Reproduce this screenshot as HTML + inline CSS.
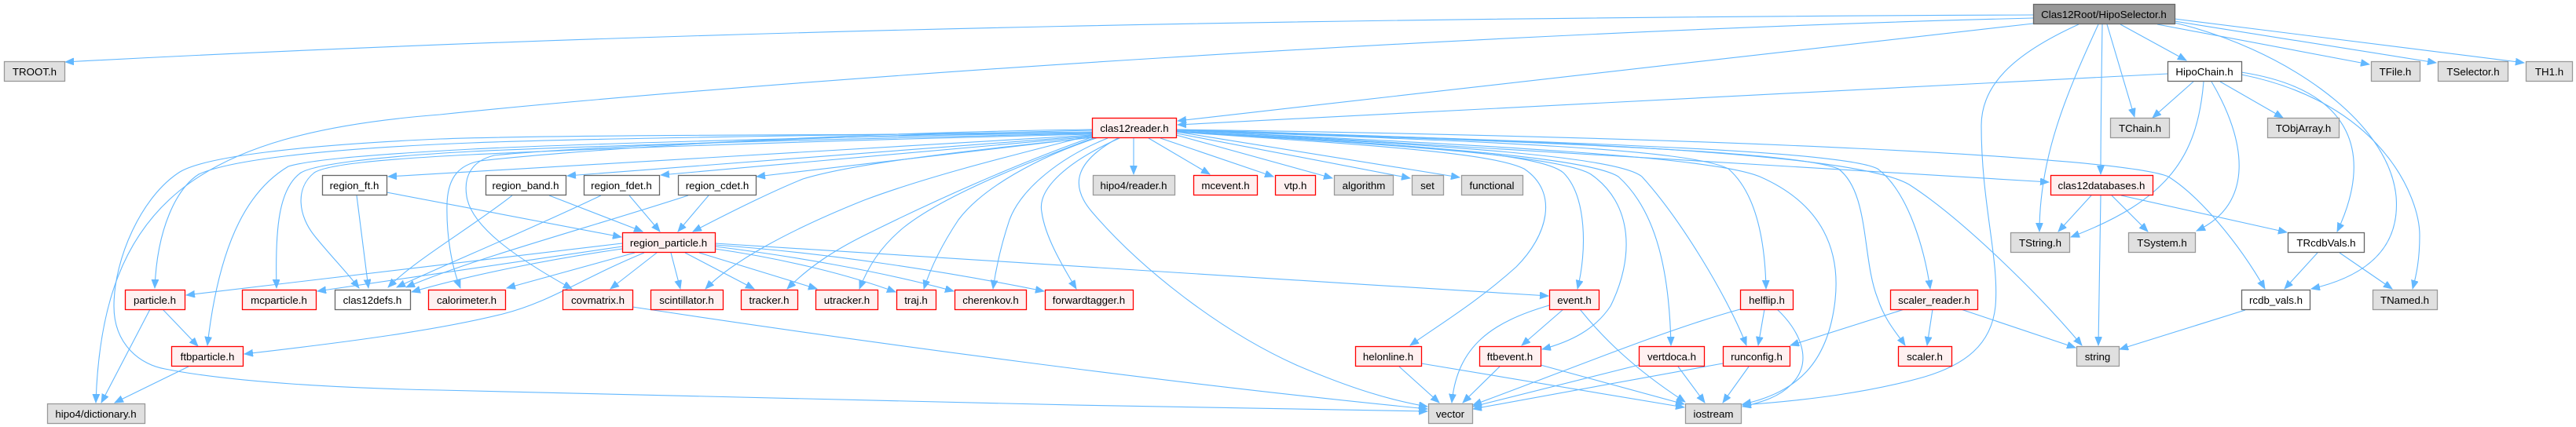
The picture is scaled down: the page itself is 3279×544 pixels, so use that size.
<!DOCTYPE html>
<html>
<head>
<meta charset="utf-8">
<style>
html,body{margin:0;padding:0;background:#ffffff;}
svg{display:block;}
text{font-family:"Liberation Sans",Arial,Helvetica,sans-serif;font-size:13.3px;fill:#000000;text-anchor:middle;}
.e{fill:none;stroke:#63b8ff;stroke-width:1.1;marker-end:url(#ah);}
.dk{fill:#999999;stroke:#666666;stroke-width:1.3;}
.gr{fill:#e0e0e0;stroke:#999999;stroke-width:1.3;}
.rd{fill:#fff0f0;stroke:#ff0000;stroke-width:1.3;}
.wh{fill:#ffffff;stroke:#666666;stroke-width:1.3;}
</style>
</head>
<body>
<svg width="3279" height="544" viewBox="0 0 3279 544" xmlns="http://www.w3.org/2000/svg">
<defs>
<marker id="ah" markerWidth="12" markerHeight="10" refX="11" refY="4.5" orient="auto" markerUnits="userSpaceOnUse">
<path d="M0,0 L11,4.5 L0,9 z" fill="#63b8ff" stroke="#63b8ff" stroke-width="0.8"/>
</marker>
</defs>

<!-- ===== EDGES ===== -->
<!-- HipoSelector -->
<path class="e" d="M2588,19 C1800,22 900,35 83,79"/>
<path class="e" d="M2588,23 C1900,40 1000,100 560,146 C250,170 130,260 122,513"/>
<path class="e" d="M2588,30 L1499,154"/>
<path class="e" d="M2646,31 C2560,70 2522,110 2522,160 C2522,260 2545,330 2540,390 C2535,440 2500,465 2450,480 C2380,500 2300,510 2218,516"/>
<path class="e" d="M2671,31 C2630,120 2596,200 2596,295"/>
<path class="e" d="M2676,31 C2675,100 2674,160 2674,222"/>
<path class="e" d="M2682,31 L2717,149"/>
<path class="e" d="M2699,31 L2783,77"/>
<path class="e" d="M2746,31 L3016,82"/>
<path class="e" d="M2768,27 L3101,80"/>
<path class="e" d="M2768,24 L3213,80"/>
<path class="e" d="M2768,29 C2900,60 3040,150 3050,250 C3055,310 3020,350 2942,368"/>

<!-- HipoChain -->
<path class="e" d="M2759,94 L1499,159"/>
<path class="e" d="M2792,104 L2740,150"/>
<path class="e" d="M2826,104 L2906,150"/>
<path class="e" d="M2805,104 C2797,200 2760,255 2636,302"/>
<path class="e" d="M2815,104 C2860,180 2870,260 2796,294"/>
<path class="e" d="M2853,92 C3000,115 3020,200 2975,295"/>
<path class="e" d="M2853,95 C3030,130 3080,250 3080,300 C3080,330 3076,350 3071,368"/>

<!-- clas12databases -->
<path class="e" d="M2662,249 L2620,295"/>
<path class="e" d="M2674,249 C2673,320 2672,380 2671,440"/>
<path class="e" d="M2688,249 L2734,295"/>
<path class="e" d="M2700,249 L2911,296"/>

<!-- TRcdbVals / rcdb_vals -->
<path class="e" d="M2950,322 L2908,368"/>
<path class="e" d="M2978,322 L3045,368"/>
<path class="e" d="M2858,395 L2698,445"/>

<!-- clas12reader right / down -->
<path class="e" d="M1443,176 L1443,222"/>
<path class="e" d="M1462,176 L1540,222"/>
<path class="e" d="M1477,176 L1621,225"/>
<path class="e" d="M1497,172 L1696,227"/>
<path class="e" d="M1498,170 L1795,227"/>
<path class="e" d="M1498,168 L1858,226"/>
<path class="e" d="M1498,165 L2608,232"/>
<path class="e" d="M1497,167 C1800,185 1960,195 1990,220 C2020,250 2020,320 2008,368"/>
<path class="e" d="M1497,168 C1750,185 1900,195 1940,215 C1985,245 1970,300 1930,340 C1880,385 1830,415 1795,440"/>
<path class="e" d="M1497,168 C1800,185 1990,200 2025,222 C2080,260 2080,330 2050,390 C2030,420 2000,435 1963,445"/>
<path class="e" d="M1497,167 C1800,185 2020,200 2060,225 C2110,270 2125,350 2127,440"/>
<path class="e" d="M1497,167 C1850,185 2060,200 2090,225 C2140,280 2200,380 2223,440"/>
<path class="e" d="M1497,166 C1900,180 2150,190 2200,215 C2240,250 2247,320 2248,368"/>
<path class="e" d="M1497,166 C1900,185 2180,200 2240,225 C2320,260 2345,320 2335,390 C2325,460 2290,500 2218,515"/>
<path class="e" d="M1497,165 C1900,180 2280,190 2340,215 C2380,245 2370,330 2390,380 C2400,410 2415,425 2425,440"/>
<path class="e" d="M1497,165 C1950,180 2340,190 2390,215 C2430,245 2450,320 2457,368"/>
<path class="e" d="M1497,165 C2000,180 2360,195 2430,235 C2500,280 2600,380 2650,440"/>
<path class="e" d="M1497,165 C2200,175 2700,200 2760,225 C2800,250 2850,310 2883,368"/>
<path class="e" d="M1423,176 C1370,205 1360,235 1390,270 C1450,340 1550,420 1650,465 C1720,495 1770,510 1817,518"/>

<!-- clas12reader left fan -->
<path class="e" d="M1390,170 C1000,172 700,172 560,177 C380,185 260,200 229,219 C180,250 145,330 145,390 C145,440 180,465 210,470 C300,488 450,495 560,497 C900,506 1400,518 1817,524"/>
<path class="e" d="M1390,168 C1000,172 700,178 600,182 C400,190 290,205 253,222 C225,240 200,290 197,367"/>
<path class="e" d="M1390,169 C1000,175 700,185 600,190 C450,198 390,205 367,212 C320,240 280,300 264,440"/>
<path class="e" d="M1390,170 C1000,178 700,188 600,193 C470,200 400,210 383,220 C355,240 350,290 352,367"/>
<path class="e" d="M1390,171 C1000,180 700,192 600,197 C480,203 415,210 400,220 C375,240 380,275 400,300 C420,325 440,345 457,367"/>
<path class="e" d="M1390,172 L494,225"/>
<path class="e" d="M1390,173 L722,224"/>
<path class="e" d="M1390,174 L841,223"/>
<path class="e" d="M1390,175 L963,225"/>
<path class="e" d="M1392,175 C1200,195 1080,210 1022,228 C980,245 930,270 882,295"/>
<path class="e" d="M1390,165 C1000,170 700,195 611,205 C585,210 570,225 569,260 C568,300 575,340 586,367"/>
<path class="e" d="M1390,166 C1000,175 700,190 629,198 C600,205 590,225 594,250 C600,290 660,330 728,368"/>
<path class="e" d="M1390,172 C1280,200 1180,225 1100,255 C1000,295 930,335 898,368"/>
<path class="e" d="M1392,174 C1290,210 1180,260 1100,300 C1060,320 1030,340 1002,368"/>
<path class="e" d="M1394,175 C1300,210 1200,250 1150,290 C1120,315 1105,340 1094,368"/>
<path class="e" d="M1398,175 C1320,200 1250,240 1220,280 C1200,310 1185,340 1176,368"/>
<path class="e" d="M1410,176 C1350,200 1300,240 1285,280 C1275,310 1268,340 1264,368"/>
<path class="e" d="M1425,176 C1360,205 1320,240 1326,270 C1330,300 1350,335 1370,368"/>

<!-- region_* -->
<path class="e" d="M454,249 L469,367"/>
<path class="e" d="M492,245 L791,302"/>
<path class="e" d="M652,249 C600,290 530,330 494,366"/>
<path class="e" d="M699,249 L818,295"/>
<path class="e" d="M765,249 C680,290 560,340 505,366"/>
<path class="e" d="M801,249 L840,295"/>
<path class="e" d="M876,249 C750,290 600,330 517,366"/>
<path class="e" d="M902,249 L863,295"/>

<!-- region_particle -->
<path class="e" d="M792,310 L237,376"/>
<path class="e" d="M792,314 L404,371"/>
<path class="e" d="M792,317 C700,330 600,350 524,372"/>
<path class="e" d="M820,322 C740,355 700,385 640,400 C560,420 450,435 311,451"/>
<path class="e" d="M808,322 L645,367"/>
<path class="e" d="M836,322 L777,368"/>
<path class="e" d="M854,322 L866,368"/>
<path class="e" d="M872,322 L960,368"/>
<path class="e" d="M890,322 L1040,368"/>
<path class="e" d="M910,317 C1000,330 1080,350 1140,372"/>
<path class="e" d="M910,314 C1000,325 1120,345 1214,371"/>
<path class="e" d="M910,312 C1050,322 1200,345 1329,371"/>
<path class="e" d="M910,310 C1200,325 1600,355 1971,377"/>

<!-- covmatrix -->
<path class="e" d="M805,391 C1100,436 1500,490 1817,521"/>

<!-- particle / ftbparticle -->
<path class="e" d="M207,394 L252,441"/>
<path class="e" d="M191,394 L129,513"/>
<path class="e" d="M240,467 L146,513"/>

<!-- event -->
<path class="e" d="M1972,389 C1900,410 1855,440 1848,513"/>
<path class="e" d="M1990,394 L1937,440"/>
<path class="e" d="M2011,394 C2040,430 2080,470 2145,512"/>
<!-- helonline -->
<path class="e" d="M1781,467 L1832,513"/>
<path class="e" d="M1809,463 L2144,519"/>
<!-- ftbevent -->
<path class="e" d="M1909,467 L1862,513"/>
<path class="e" d="M1961,465 L2144,515"/>
<!-- vertdoca -->
<path class="e" d="M2086,465 L1875,518"/>
<path class="e" d="M2136,467 L2170,513"/>
<!-- runconfig -->
<path class="e" d="M2193,463 L1875,521"/>
<path class="e" d="M2226,467 L2193,513"/>
<!-- helflip -->
<path class="e" d="M2246,394 L2238,440"/>
<path class="e" d="M2215,394 C2120,420 2000,470 1875,516"/>
<path class="e" d="M2262,394 C2290,420 2310,460 2280,490 C2265,505 2245,512 2218,518"/>
<!-- scaler_reader -->
<path class="e" d="M2424,394 L2279,440"/>
<path class="e" d="M2460,394 L2453,440"/>
<path class="e" d="M2496,394 L2642,443"/>

<!-- ===== NODES ===== -->
<g>
<!-- row 0 -->
<rect class="dk" x="2588.5" y="5.5" width="180" height="25"/><text x="2678" y="23">Clas12Root/HipoSelector.h</text>
<!-- row 1 -->
<rect class="gr" x="5.5" y="78.5" width="77" height="25"/><text x="44" y="96">TROOT.h</text>
<rect class="wh" x="2759.5" y="78.5" width="94" height="25"/><text x="2806" y="96">HipoChain.h</text>
<rect class="gr" x="3018.5" y="78.5" width="62" height="25"/><text x="3049" y="96">TFile.h</text>
<rect class="gr" x="3103.5" y="78.5" width="89" height="25"/><text x="3148" y="96">TSelector.h</text>
<rect class="gr" x="3215.5" y="78.5" width="59" height="25"/><text x="3245" y="96">TH1.h</text>
<!-- row 2 -->
<rect class="rd" x="1390.5" y="150.5" width="107" height="25"/><text x="1444" y="168">clas12reader.h</text>
<rect class="gr" x="2686.5" y="150.5" width="75" height="25"/><text x="2724" y="168">TChain.h</text>
<rect class="gr" x="2886.5" y="150.5" width="91" height="25"/><text x="2932" y="168">TObjArray.h</text>
<!-- row 3 -->
<rect class="wh" x="410.5" y="223.5" width="82" height="25"/><text x="451" y="241">region_ft.h</text>
<rect class="wh" x="618.5" y="223.5" width="102" height="25"/><text x="669" y="241">region_band.h</text>
<rect class="wh" x="743.5" y="223.5" width="96" height="25"/><text x="791" y="241">region_fdet.h</text>
<rect class="wh" x="863.5" y="223.5" width="99" height="25"/><text x="913" y="241">region_cdet.h</text>
<rect class="gr" x="1391.5" y="223.5" width="104" height="25"/><text x="1443" y="241">hipo4/reader.h</text>
<rect class="rd" x="1519.5" y="223.5" width="81" height="25"/><text x="1560" y="241">mcevent.h</text>
<rect class="rd" x="1623.5" y="223.5" width="51" height="25"/><text x="1649" y="241">vtp.h</text>
<rect class="gr" x="1698.5" y="223.5" width="75" height="25"/><text x="1736" y="241">algorithm</text>
<rect class="gr" x="1797.5" y="223.5" width="40" height="25"/><text x="1817" y="241">set</text>
<rect class="gr" x="1860.5" y="223.5" width="78" height="25"/><text x="1899" y="241">functional</text>
<rect class="rd" x="2610.5" y="223.5" width="130" height="25"/><text x="2675" y="241">clas12databases.h</text>
<!-- row 4 -->
<rect class="rd" x="792.5" y="296.5" width="118" height="25"/><text x="851" y="314">region_particle.h</text>
<rect class="gr" x="2559.5" y="296.5" width="75" height="25"/><text x="2597" y="314">TString.h</text>
<rect class="gr" x="2709.5" y="296.5" width="85" height="25"/><text x="2752" y="314">TSystem.h</text>
<rect class="wh" x="2912.5" y="296.5" width="97" height="25"/><text x="2961" y="314">TRcdbVals.h</text>
<!-- row 5 -->
<rect class="rd" x="159.5" y="369.5" width="76" height="25"/><text x="197" y="387">particle.h</text>
<rect class="rd" x="308.5" y="369.5" width="94" height="25"/><text x="355" y="387">mcparticle.h</text>
<rect class="wh" x="426.5" y="369.5" width="96" height="25"/><text x="474" y="387">clas12defs.h</text>
<rect class="rd" x="545.5" y="369.5" width="98" height="25"/><text x="594" y="387">calorimeter.h</text>
<rect class="rd" x="716.5" y="369.5" width="89" height="25"/><text x="761" y="387">covmatrix.h</text>
<rect class="rd" x="828.5" y="369.5" width="92" height="25"/><text x="874" y="387">scintillator.h</text>
<rect class="rd" x="943.5" y="369.5" width="72" height="25"/><text x="979" y="387">tracker.h</text>
<rect class="rd" x="1038.5" y="369.5" width="79" height="25"/><text x="1078" y="387">utracker.h</text>
<rect class="rd" x="1141.5" y="369.5" width="50" height="25"/><text x="1166" y="387">traj.h</text>
<rect class="rd" x="1215.5" y="369.5" width="91" height="25"/><text x="1261" y="387">cherenkov.h</text>
<rect class="rd" x="1330.5" y="369.5" width="112" height="25"/><text x="1386" y="387">forwardtagger.h</text>
<rect class="rd" x="1972.5" y="369.5" width="63" height="25"/><text x="2004" y="387">event.h</text>
<rect class="rd" x="2215.5" y="369.5" width="67" height="25"/><text x="2249" y="387">helflip.h</text>
<rect class="rd" x="2406.5" y="369.5" width="111" height="25"/><text x="2462" y="387">scaler_reader.h</text>
<rect class="wh" x="2853.5" y="369.5" width="87" height="25"/><text x="2897" y="387">rcdb_vals.h</text>
<rect class="gr" x="3020.5" y="369.5" width="82" height="25"/><text x="3061" y="387">TNamed.h</text>
<!-- row 6 -->
<rect class="rd" x="218.5" y="441.5" width="91" height="25"/><text x="264" y="459">ftbparticle.h</text>
<rect class="rd" x="1725.5" y="441.5" width="84" height="25"/><text x="1767" y="459">helonline.h</text>
<rect class="rd" x="1883.5" y="441.5" width="78" height="25"/><text x="1922" y="459">ftbevent.h</text>
<rect class="rd" x="2086.5" y="441.5" width="83" height="25"/><text x="2128" y="459">vertdoca.h</text>
<rect class="rd" x="2193.5" y="441.5" width="85" height="25"/><text x="2236" y="459">runconfig.h</text>
<rect class="rd" x="2416.5" y="441.5" width="68" height="25"/><text x="2450" y="459">scaler.h</text>
<rect class="gr" x="2643.5" y="441.5" width="54" height="25"/><text x="2670" y="459">string</text>
<!-- row 7 -->
<rect class="gr" x="60.5" y="514.5" width="124" height="25"/><text x="122" y="532">hipo4/dictionary.h</text>
<rect class="gr" x="1818.5" y="514.5" width="56" height="25"/><text x="1846" y="532">vector</text>
<rect class="gr" x="2145.5" y="514.5" width="71" height="25"/><text x="2181" y="532">iostream</text>
</g>
</svg>
</body>
</html>
